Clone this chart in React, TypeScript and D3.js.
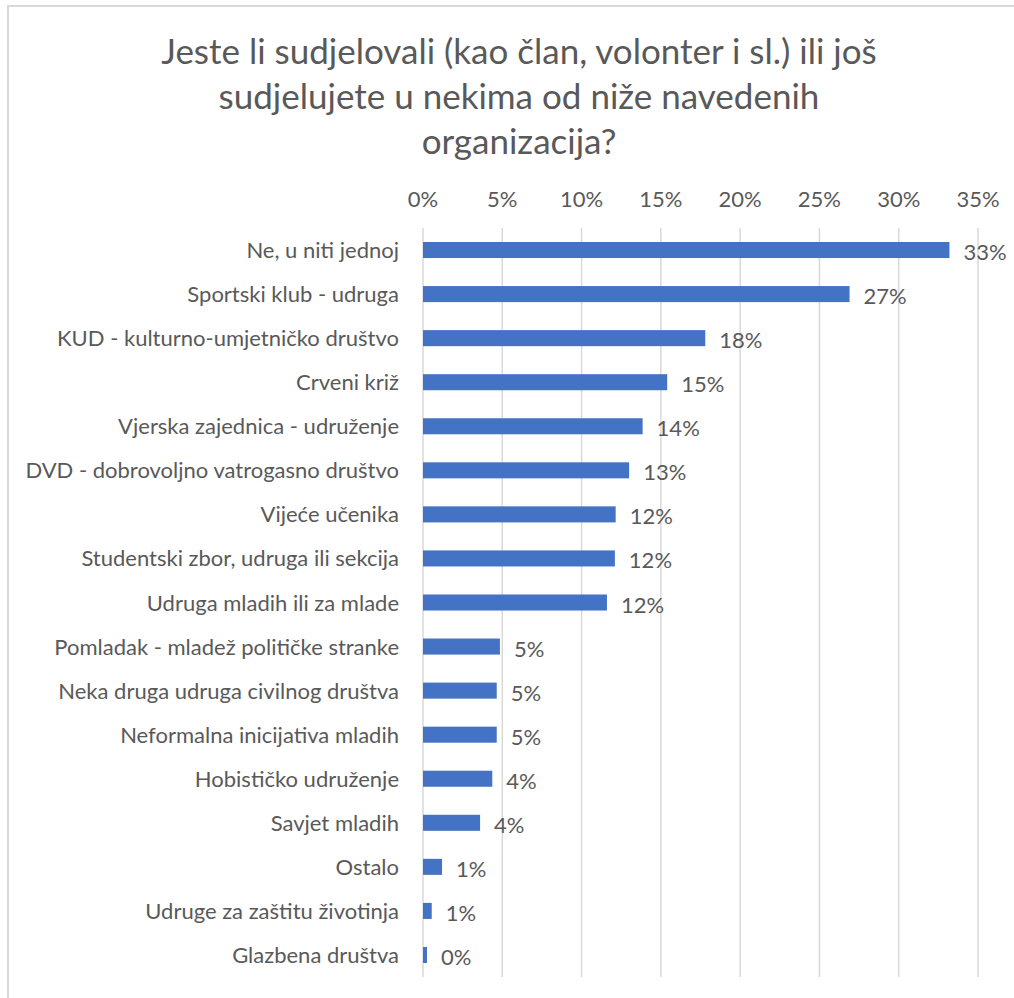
import React from "react";
import * as d3 from "d3";

const titleLines = [
  "Jeste li sudjelovali (kao član, volonter i sl.) ili još",
  "sudjelujete u nekima od niže navedenih",
  "organizacija?",
];

const categories = [
  "Ne, u niti jednoj",
  "Sportski klub - udruga",
  "KUD - kulturno-umjetničko društvo",
  "Crveni križ",
  "Vjerska zajednica - udruženje",
  "DVD - dobrovoljno vatrogasno društvo",
  "Vijeće učenika",
  "Studentski zbor, udruga ili sekcija",
  "Udruga mladih ili za mlade",
  "Pomladak - mladež političke stranke",
  "Neka druga udruga civilnog društva",
  "Neformalna inicijativa mladih",
  "Hobističko udruženje",
  "Savjet mladih",
  "Ostalo",
  "Udruge za zaštitu životinja",
  "Glazbena društva",
];

const values = [
  33.2, 26.9, 17.8, 15.4, 13.85, 13.0, 12.15, 12.1, 11.6, 4.85, 4.65, 4.65,
  4.37, 3.6, 1.2, 0.55, 0.25,
];

const tickValues = [0, 5, 10, 15, 20, 25, 30, 35];

const W = 1014;
const H = 998;
const FONT = "Lato, 'Open Sans', sans-serif";
const TEXT = "#595959";

export default function App() {
  const x = d3.scaleLinear().domain([0, 35]).range([423, 978]);
  const y = d3
    .scaleBand<string>()
    .domain(categories)
    .range([228, 977])
    .paddingInner(0.636)
    .paddingOuter(0.318);
  const bw = y.bandwidth();

  return (
    <svg
      width={W}
      height={H}
      style={{ position: "absolute", left: 0, top: 0, background: "#fff" }}
      fontFamily={FONT}
    >
      <rect x={0} y={0} width={W} height={H} fill="#fff" />
      <rect
        x={8}
        y={6}
        width={W + 20}
        height={H + 20}
        fill="none"
        stroke="#d9d9d9"
        strokeWidth={2}
      />
      {titleLines.map((t, i) => (
        <text
          key={i}
          x={519}
          y={64 + i * 45}
          textAnchor="middle"
          fontSize={35}
          fill={TEXT}
        >
          {t}
        </text>
      ))}
      {tickValues.map((t) => (
        <g key={t}>
          <line
            x1={x(t)}
            x2={x(t)}
            y1={228}
            y2={977}
            stroke="#d9d9d9"
            strokeWidth={1.5}
          />
          <text
            x={x(t)}
            y={207}
            textAnchor="middle"
            fontSize={22}
            fill={TEXT}
          >
            {t}%
          </text>
        </g>
      ))}
      {categories.map((c, i) => {
        const yc = (y(c) as number) + bw / 2;
        return (
          <g key={c}>
            <rect
              x={x(0)}
              y={y(c)}
              width={x(values[i]) - x(0)}
              height={bw}
              fill="#4472C4"
            />
            <text
              x={399}
              y={yc + 8}
              textAnchor="end"
              fontSize={22}
              fill={TEXT}
            >
              {c}
            </text>
            <text
              x={x(values[i]) + 14}
              y={yc + 10}
              fontSize={22}
              fill={TEXT}
            >
              {Math.round(values[i])}%
            </text>
          </g>
        );
      })}
    </svg>
  );
}
